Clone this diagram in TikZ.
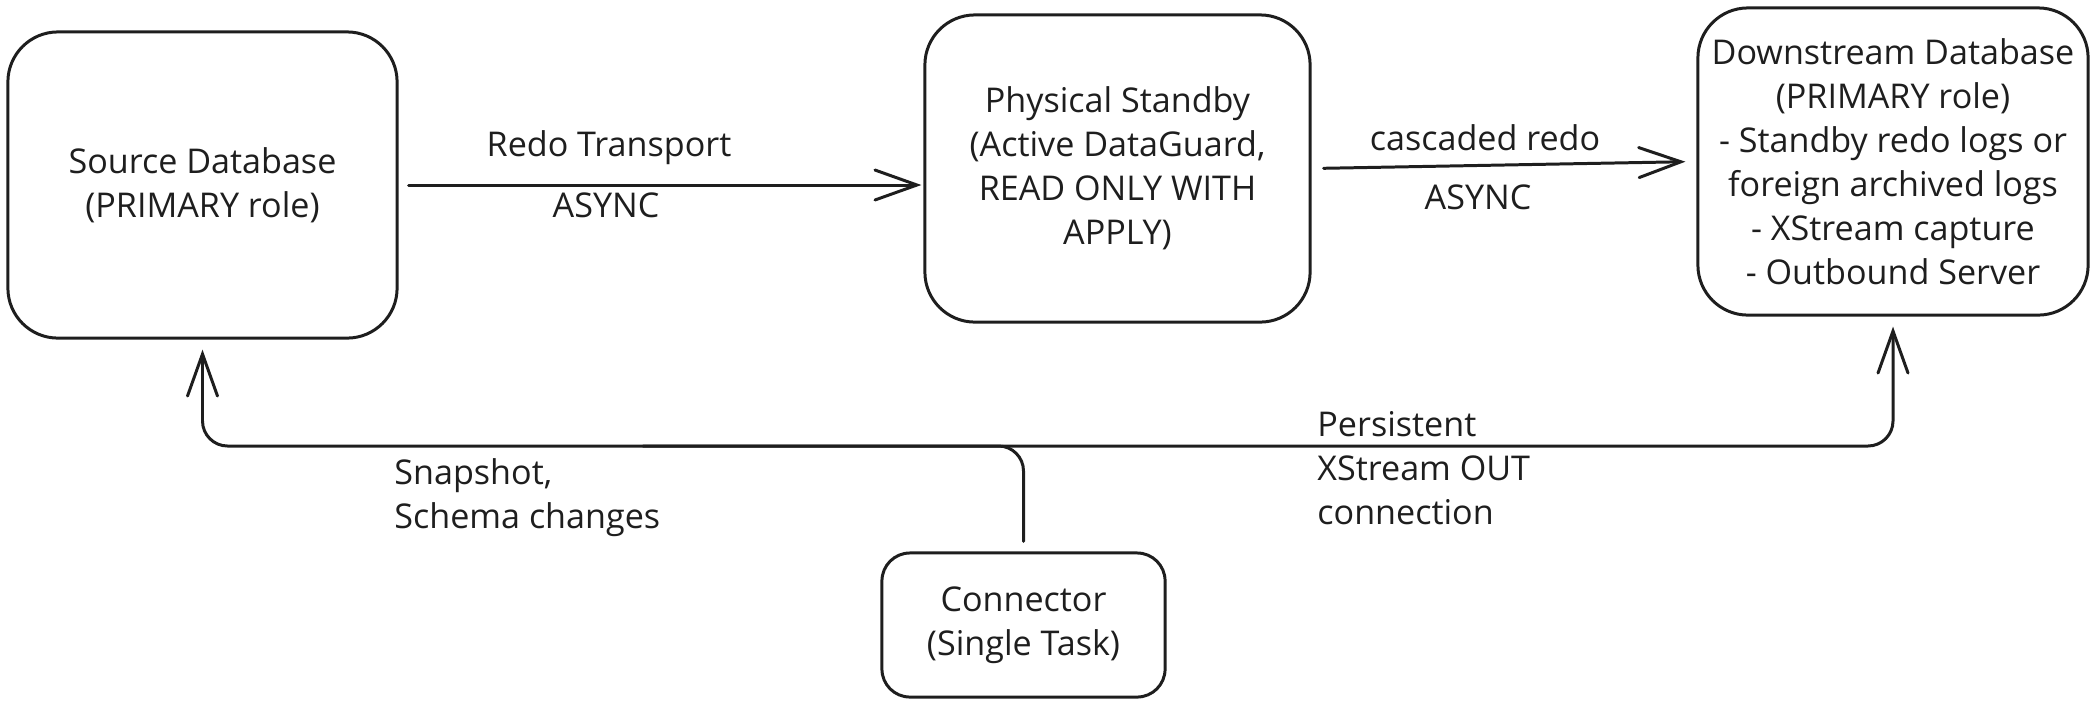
\documentclass[tikz,border=0pt]{standalone}
\usepackage{fontspec}
\setmainfont{Open Sans}
\usepackage{xcolor}
\definecolor{inkdark}{RGB}{30,30,30}
\usepackage{tikz}
\usetikzlibrary{arrows.meta,positioning,calc}

\begin{document}
\begin{tikzpicture}[
  x=0.01cm, y=-0.01cm,
  >={Straight Barb[length=4.2mm, width=3mm, line cap=round]},
  every node/.style={text=inkdark, font=\fontsize{9.7}{12.5}\selectfont},
  dbbox/.style={draw=inkdark, line width=0.85pt, rounded corners=0.5cm, minimum width=3.89cm, minimum height=3.06cm, align=center, inner sep=0pt},
  taskbox/.style={draw=inkdark, line width=0.85pt, rounded corners=0.28cm, minimum width=2.83cm, minimum height=1.44cm, align=center, inner sep=0pt},
  flow/.style={->, draw=inkdark, line width=0.85pt, line cap=round}
]
\useasboundingbox (0,0) rectangle (2094,708);

\node[dbbox] (src) at (202.5,185) {Source Database\\(PRIMARY role)};
\node[dbbox, minimum width=3.85cm, minimum height=3.07cm] (phys) at (1117.5,168.5) {Physical Standby\\(Active DataGuard,\\READ ONLY WITH\\APPLY)};
\node[dbbox, minimum width=3.90cm, minimum height=3.07cm] (down) at (1893,161.5) {Downstream Database\\(PRIMARY role)\\- Standby redo logs or\\foreign archived logs\\- XStream capture\\- Outbound Server};
\node[taskbox] (conn) at (1023.5,625) {Connector\\(Single Task)};

\draw[flow, shorten <=10*0.01cm, shorten >=2*0.01cm] (src.east) -- (src.east -| phys.west);
\node (t1) at (609,148) {Redo Transport};
\node (t2) at (606,205) {ASYNC};

\draw[flow, shorten <=12*0.01cm, shorten >=11*0.01cm] (phys.east) -- (down.west);
\node (c1) at (1485,138) {cascaded redo};
\node (c2) at (1478,197) {ASYNC};

\coordinate (xsjoin) at (643,446);
\draw[flow, rounded corners=0.25cm, shorten <=10*0.01cm, shorten >=10*0.01cm] (conn.north) |- (src.south |- xsjoin) -- (src.south);
\draw[flow, rounded corners=0.25cm, shorten >=10*0.01cm] (xsjoin) -| (down.south);

\node[anchor=west, align=left] (snap) at (382,498) {Snapshot,\\Schema changes};
\node[anchor=west, align=left] (xsout) at (1305,468) {Persistent\\XStream OUT\\connection};
\end{tikzpicture}
\end{document}
